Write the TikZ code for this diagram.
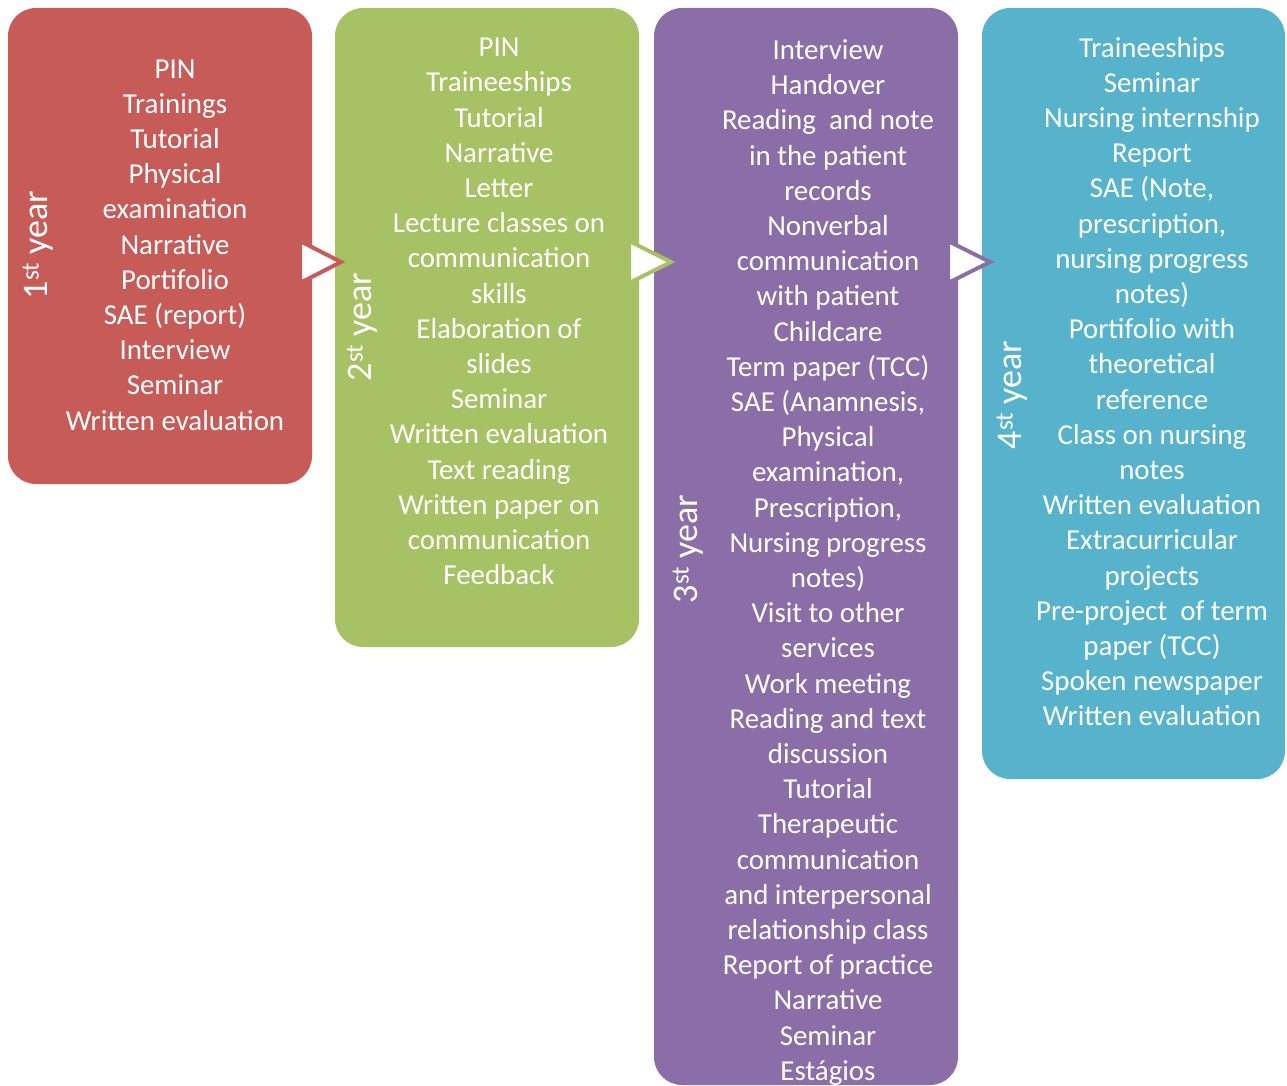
\documentclass[tikz,border=0pt]{standalone}
\usepackage{fontspec}
\setmainfont{Carlito}
\definecolor{redbox}{HTML}{C75B58}
\definecolor{greenbox}{HTML}{A6C264}
\definecolor{purplebox}{HTML}{8B6DA8}
\definecolor{bluebox}{HTML}{57B3CC}
\tikzset{
  yearbox/.style={rounded corners=28pt, draw=none, inner sep=0pt},
  itemtext/.style={text=white, align=center, font=\fontsize{28.9}{35.2}\selectfont, inner sep=0pt},
  yeartext/.style={text=white, rotate=90, font=\fontsize{36}{40}\selectfont, inner sep=0pt},
  arrowtri/.style={fill=white, line width=4pt, line join=miter}
}
\begin{document}
\begin{tikzpicture}[x=1pt,y=-1pt]
\useasboundingbox (0,0) rectangle (1287,1086);
% boxes
\node[yearbox, fill=redbox, minimum width=304pt, minimum height=476pt] (b1) at (160,246) {};
\node[yearbox, fill=greenbox, minimum width=304pt, minimum height=639pt] (b2) at (487,327.5) {};
\node[yearbox, fill=purplebox, minimum width=304pt, minimum height=1077pt] (b3) at (806,546.5) {};
\node[yearbox, fill=bluebox, minimum width=303pt, minimum height=771pt] (b4) at (1133.5,393.5) {};
% arrows
\draw[arrowtri, draw=redbox] (300,241) -- (341,262) -- (300,283) -- cycle;
\draw[arrowtri, draw=greenbox] (629,241) -- (671,262) -- (629,283) -- cycle;
\draw[arrowtri, draw=purplebox] (948,241) -- (990,262) -- (948,283) -- cycle;
% year labels
\node[yeartext] (y1) at (38,245) {1\textsuperscript{st} year};
\node[yeartext] (y2) at (362,327) {2\textsuperscript{st} year};
\node[yeartext] (y3) at (688,549) {3\textsuperscript{st} year};
\node[yeartext] (y4) at (1012,395) {4\textsuperscript{st} year};
% texts
\node[itemtext] (t1) at (175,245) {PIN\\Trainings\\Tutorial\\Physical\\examination\\Narrative\\Portifolio\\SAE (report)\\Interview\\Seminar\\Written evaluation};
\node[itemtext] (t2) at (499,311.5) {PIN\\Traineeships\\Tutorial\\Narrative\\Letter\\Lecture classes on\\communication\\skills\\Elaboration of\\slides\\Seminar\\Written evaluation\\Text reading\\Written paper on\\communication\\Feedback};
\node[itemtext] (t3) at (828,562.5) {Interview\\Handover\\Reading\ \ and note\\in the patient\\records\\Nonverbal\\communication\\with patient\\Childcare\\Term paper (TCC)\\SAE (Anamnesis,\\Physical\\examination,\\Prescription,\\Nursing progress\\notes)\\Visit to other\\services\\Work meeting\\Reading and text\\discussion\\Tutorial\\Therapeutic\\communication\\and interpersonal\\relationship class\\Report of practice\\Narrative\\Seminar\\Estágios};
\node[itemtext] (t4) at (1152,381.5) {Traineeships\\Seminar\\Nursing internship\\Report\\SAE (Note,\\prescription,\\nursing progress\\notes)\\Portifolio with\\theoretical\\reference\\Class on nursing\\notes\\Written evaluation\\Extracurricular\\projects\\Pre-project\ \ of term\\paper (TCC)\\Spoken newspaper\\Written evaluation};
\end{tikzpicture}
\end{document}
